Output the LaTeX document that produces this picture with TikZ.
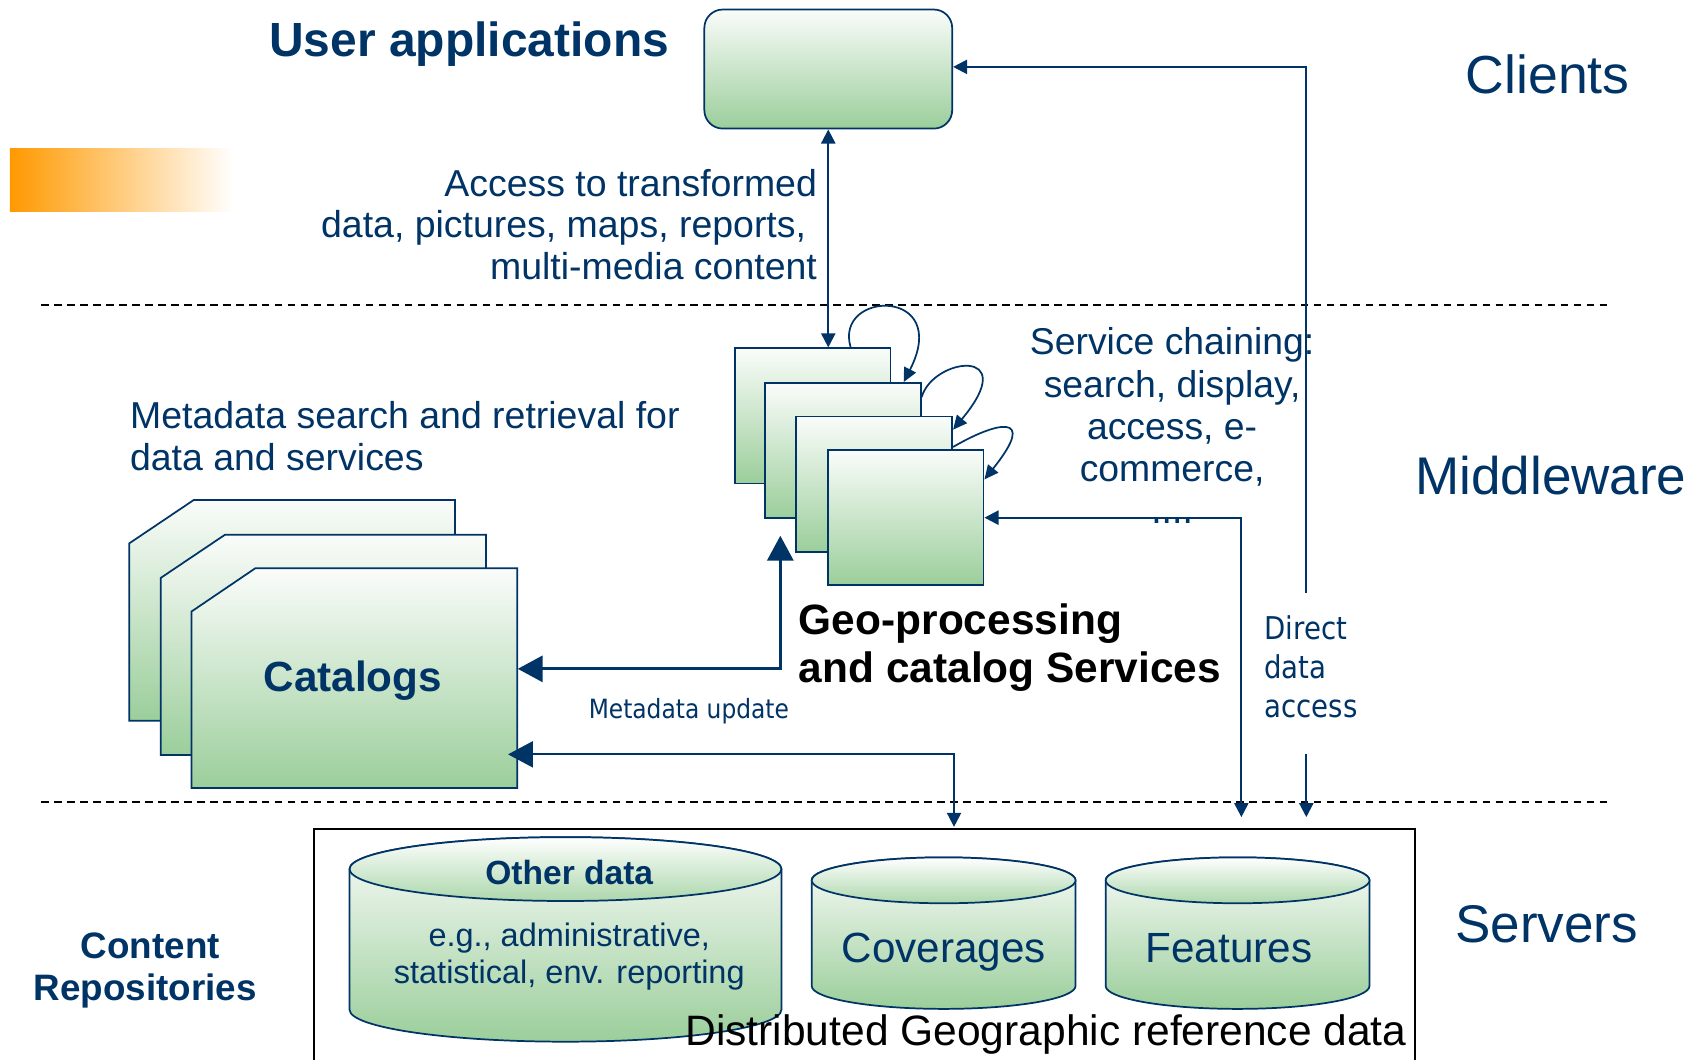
\documentclass[tikz,border=0pt]{standalone}
\usepackage{fontspec}
\setmainfont{Liberation Sans}
\newfontfamily\tahoma[FakeStretch=0.88]{DejaVu Sans}
\usetikzlibrary{arrows.meta}
\definecolor{navy}{RGB}{0,51,102}
\definecolor{gtop}{RGB}{250,252,250}
\definecolor{gbot}{RGB}{155,206,155}
\definecolor{gmid}{RGB}{172,215,172}
\definecolor{orng}{RGB}{255,153,0}
\newcommand\fs[2]{\fontsize{#1}{#2}\selectfont}
% cylinder: cx, y of top ellipse centre, y of bottom ellipse centre, rx, ry
\newcommand\drawdb[5]{%
  \path[draw=navy, line width=1.6pt, top color=gtop, bottom color=gbot]
    ({#1-#4},#2) -- ({#1-#4},#3) arc[start angle=180, end angle=360, x radius=#4, y radius=#5]
    -- ({#1+#4},#2) arc[start angle=0, end angle=180, x radius=#4, y radius=#5] -- cycle;
  \path[draw=navy, line width=1.6pt, top color=white, bottom color=gmid]
    (#1,#2) ellipse[x radius=#4, y radius=#5];
}
\begin{document}
\begin{tikzpicture}[x=1pt,y=1pt,
  gbox/.style={draw=navy, line width=1.6pt, top color=gtop, bottom color=gbot, inner sep=0pt},
  lbl/.style={text=navy, inner sep=0pt},
  conn/.style={draw=navy, line width=2pt, -{Triangle[length=13pt,width=13pt]}},
  dconn/.style={draw=navy, line width=2pt, {Triangle[length=13pt,width=13pt]}-{Triangle[length=13pt,width=13pt]}},
  loopc/.style={draw=navy, line width=1.6pt, -{Triangle[length=13pt,width=12pt]}},
  bigc/.style={draw=navy, line width=3pt, {Triangle[length=23pt,width=24pt]}-{Triangle[length=23pt,width=24pt]}},
  mixc/.style={draw=navy, line width=2pt, {Triangle[length=23pt,width=24pt]}-{Triangle[length=13pt,width=13pt]}},
  sepline/.style={black, line width=1.5pt, dash pattern=on 7pt off 5pt}
]
\useasboundingbox (0,0) rectangle (1568,-979);

% orange bar
\node[anchor=north west, minimum width=206pt, minimum height=58pt, inner sep=0pt,
      left color=orng, right color=white] (bar) at (9,-137) {};

% tier separators
\draw[sepline] (38,-282) -- (1487,-282);
\draw[sepline] (38,-741) -- (1487,-741);

% tier labels
\node[lbl, anchor=base, font=\fs{49.5}{55}] (clients) at (1430,-86) {Clients};
\node[lbl, anchor=base, font=\fs{49}{55}] (middle) at (1433,-457) {Middleware};
\node[lbl, anchor=base, font=\fs{49}{55}] (servers) at (1429,-871) {Servers};

% user applications
\node[lbl, anchor=base, font=\bfseries\fs{44.3}{50}] (uatitle) at (433.5,-52) {User applications};
\node[gbox, rounded corners=17pt, minimum width=229pt, minimum height=110pt, anchor=north west] (user) at (650,-8) {};

\node[lbl, anchor=east, align=right, font=\fs{34.6}{38.5}] (access) at (755,-207.5)
  {Access to transformed\\ data, pictures, maps, reports,\rule{10pt}{0pt}\\ multi-media content};

% geo-processing stack
\node[gbox, minimum width=144pt, minimum height=125pt, anchor=north west] (g1) at (678,-321) {};
\node[gbox, minimum width=144pt, minimum height=125pt, anchor=north west] (g2) at (706,-353) {};
\node[gbox, minimum width=144pt, minimum height=125pt, anchor=north west] (g3) at (735,-384) {};
\node[gbox, minimum width=144pt, minimum height=125pt, anchor=north west] (g4) at (764,-415) {};

\draw[dconn] (user.south) -- (user.south |- g1.north);

\draw[loopc] ([xshift=108pt]g1.north west) .. controls (770,-268) and (880,-265) .. ([xshift=129pt]g2.north west);
\draw[loopc] ([yshift=-14pt]g2.north east) .. controls (862,-330) and (945,-320) .. ([yshift=-13pt]g3.north east);
\draw[loopc] ([yshift=-29pt]g3.north east) .. controls (920,-390) and (960,-380) .. ([yshift=-28pt]g4.north east);

\node[lbl, align=center, font=\fs{34.5}{39}] (svc) at (1083,-393.5)
  {Service chaining:\\ search, display,\\ access, e-\\ commerce,\\ ....};

\node[anchor=west, align=left, inner sep=0pt, font=\bfseries\fs{39.2}{45}] (geo) at (738,-598.5)
  {Geo-processing\\ and catalog Services};

% metadata search text
\node[lbl, anchor=west, align=left, font=\fs{34.6}{38.5}] (msearch) at (120,-403)
  {Metadata search and retrieval for\\ data and services};

% catalogs
\path[gbox] (119.5,-502) -- (179,-462) -- (420.5,-462) -- (420.5,-666) -- (119.5,-666) -- cycle;
\path[gbox] (148.5,-534) -- (208,-494) -- (449,-494) -- (449,-697.5) -- (148.5,-697.5) -- cycle;
\path[gbox] (177,-565) -- (236,-525) -- (478,-525) -- (478,-728) -- (177,-728) -- cycle;
\node[minimum width=301pt, minimum height=203pt, anchor=north west, inner sep=0pt] (cat) at (177,-525) {};
\node[lbl, anchor=base, font=\bfseries\fs{39}{45}] (catlbl) at (326,-639) {Catalogs};

% catalog connectors
\coordinate (gup) at (721,-495);
\coordinate (mu) at (721,-618);
\draw[bigc] (cat.east |- mu) -- (mu) -- (gup);
\coordinate (catin) at ([xshift=-9pt]cat.east);
\coordinate (mlow) at (881.5,-697);
\coordinate (mbot) at (881.5,-764);
\draw[mixc] (catin |- mlow) -- (mlow) -- (mbot);
\node[lbl, anchor=base, font=\tahoma\fs{24.5}{28}] (mupd) at (636.5,-664) {Metadata update};

% service connector and direct data access
\coordinate (svcend) at (1147,-755);
\draw[dconn] (g4.east) -| (svcend);
\coordinate (dtop) at (1207,-548);
\coordinate (dmid) at (1207,-697);
\coordinate (dbot) at (1207,-755);
\draw[conn] (dtop) |- ([yshift=2pt]user.east);
\draw[conn] (dmid) -- (dbot);
\node[lbl, anchor=west, align=left, font=\tahoma\fs{29}{36}] (direct) at (1168,-616)
  {Direct\\ data\\ access};

% servers frame
\draw[black, line width=1.8pt] (290,-979) -- (290,-766) -- (1307,-766) -- (1307,-979);

% repositories
\drawdb{522.5}{-803}{-933}{199.5}{29.5}
\drawdb{871.9}{-813.4}{-911}{121.9}{21.2}
\drawdb{1143.5}{-813.4}{-911}{121.9}{21.2}
\node[lbl, anchor=base, font=\bfseries\fs{31}{36}] (other) at (526,-817) {Other data};
\node[lbl, align=center, font=\fs{30}{34}] (otherd) at (526,-884)
  {e.g., administrative,\\ statistical, env. reporting};
\node[lbl, anchor=base, font=\fs{39}{45}] (cov) at (872,-889) {Coverages};
\node[lbl, anchor=base, font=\fs{39}{45}] (feat) at (1135.5,-889) {Features};
\node[anchor=base, inner sep=0pt, font=\fs{39.3}{44}] (dist) at (966.5,-966) {Distributed Geographic reference data};

\node[lbl, align=center, font=\bfseries\fs{34}{39}] (content) at (134,-896.5)
  {\hspace*{10pt}Content\\ Repositories};
\end{tikzpicture}
\end{document}
